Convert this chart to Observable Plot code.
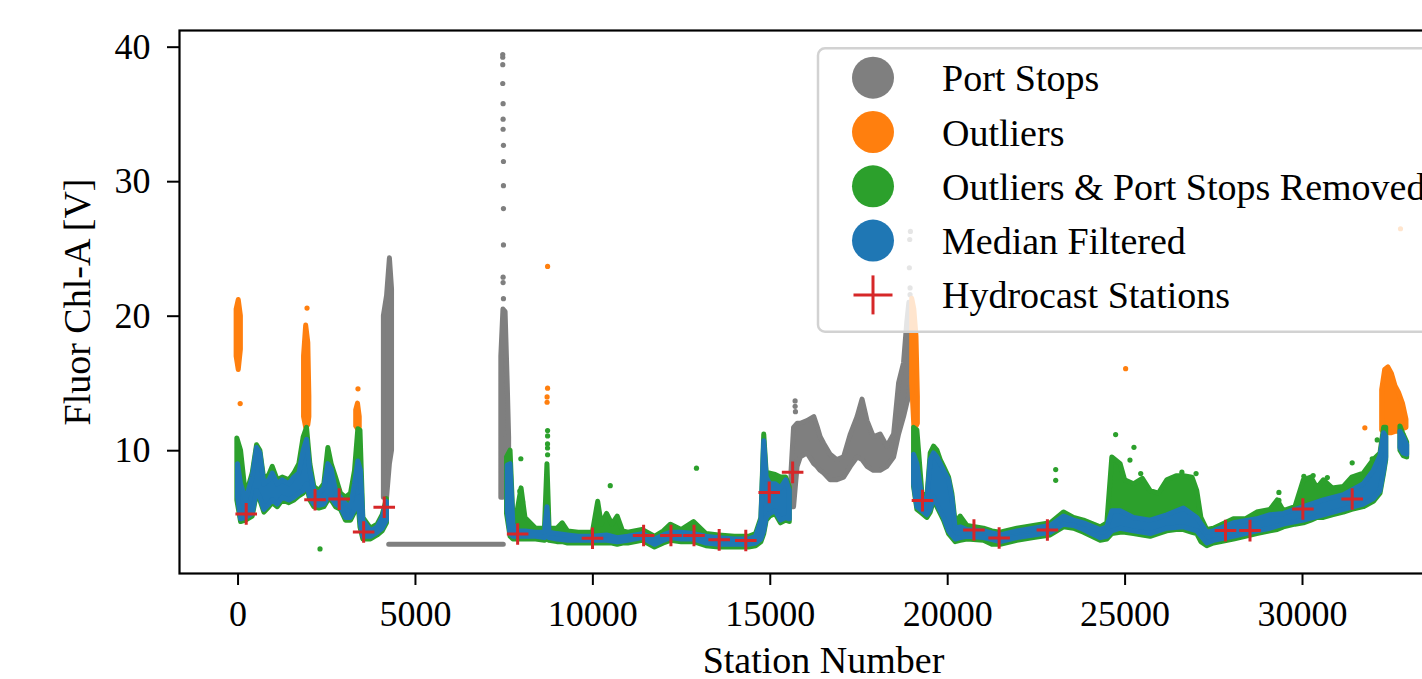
<!DOCTYPE html>
<html><head><meta charset="utf-8">
<script src="https://cdn.jsdelivr.net/npm/d3@7"></script>
<script src="https://cdn.jsdelivr.net/npm/@observablehq/plot@0.6"></script>
<style>
html,body{margin:0;padding:0;background:#fff;overflow:hidden;}
#wrap{position:relative;width:1422px;height:679px;overflow:hidden;background:#fff;}
#wrap svg{max-width:none !important;}
</style></head><body><div id="wrap"></div>
<script>
// ---- data (station number, low, high) ; null = gap between runs ----
const portStopBands = [
  [4110, 6.5, 20.0], [4200, 6.5, 21.5], [4280, 9.0, 24.3], [4340, 10.0, 22.0],
  null,
  [4260, 3.0, 3.0], [7490, 3.0, 3.0],
  null,
  [7420, 6.5, 17.0], [7480, 6.5, 20.5], [7540, 7.0, 20.3], [7600, 8.5, 15.0], [7640, 9.5, 11.0],
  null,
  [15600, 5.8, 8.5], [15670, 5.8, 11.7], [15770, 8.8, 12.0], [15860, 9.5, 12.0], [16050, 9.8, 12.2],
  [16240, 9.0, 12.5], [16330, 8.8, 11.8], [16420, 8.5, 11.0], [16520, 8.3, 10.5], [16700, 7.8, 9.7],
  [16890, 7.8, 9.3], [17080, 8.0, 9.5], [17270, 8.8, 11.2], [17460, 9.5, 12.5], [17600, 9.3, 13.8],
  [17740, 8.8, 12.2], [17920, 8.5, 11.0], [18110, 8.5, 11.2], [18300, 8.8, 10.3], [18490, 9.5, 11.2],
  [18630, 11.2, 15.0], [18770, 12.5, 16.5], [18860, 13.5, 19.5], [18920, 14.0, 21.0], [18990, 16.0, 20.0]
];
const portStopDots = [
  [7460, 39.45], [7460, 39.25], [7460, 38.7], [7460, 37.3], [7470, 35.8], [7470, 34.65], [7470, 33.9],
  [7480, 32.7], [7480, 31.5], [7480, 29.7], [7480, 28.0], [7480, 25.3], [7470, 22.9], [7470, 22.5], [7480, 21.3],
  [15700, 13.7], [15700, 13.3], [15710, 12.9],
  [18950, 26.3], [18930, 25.7], [18920, 23.6], [18940, 22.1], [18940, 21.6]
];
const outlierBands = [
  [-40, 17.0, 20.5], [20, 16.0, 21.2], [80, 17.5, 20.0],
  null,
  [1860, 12.5, 17.0], [1920, 11.7, 19.3], [1980, 11.9, 18.0], [2010, 12.5, 14.0],
  null,
  [3330, 11.8, 13.0], [3380, 11.6, 13.5], [3430, 11.7, 12.5],
  null,
  [19000, 15.0, 21.3], [19060, 11.8, 20.5], [19120, 11.8, 18.5], [19160, 12.0, 14.0],
  null,
  [32245, 11.5, 14.5], [32330, 11.3, 16.0], [32420, 11.3, 16.2], [32520, 11.3, 15.7],
  [32620, 11.4, 14.8], [32720, 11.4, 14.3], [32830, 11.6, 13.5], [32930, 11.7, 12.3]
];
const outlierDots = [
  [60, 13.5], [1944, 20.6], [3380, 14.6],
  [8724, 23.7], [8724, 14.65], [8710, 14.0], [8710, 13.6],
  [25015, 16.1], [31757, 11.7], [32762, 26.5]
];
const cleanedBands = [
  [-20, 6.3, 10.9], [85, 4.7, 10.0], [225, 4.8, 6.6], [413, 5.1, 8.3], [535, 6.8, 10.4], [629, 6.3, 10.0],
  [742, 5.4, 7.8], [883, 5.8, 8.2], [977, 6.1, 8.8], [1118, 5.8, 7.8], [1258, 6.3, 8.0], [1446, 6.1, 7.8],
  [1587, 6.3, 8.3], [1728, 6.6, 9.0], [1850, 6.8, 11.0], [1944, 7.3, 11.7], [2038, 6.3, 9.0], [2150, 5.8, 7.3],
  [2291, 5.7, 7.0], [2432, 5.8, 7.5], [2545, 6.3, 10.2], [2639, 6.3, 9.0], [2761, 5.8, 8.0], [2902, 5.6, 6.8],
  [3042, 4.8, 6.5], [3183, 4.8, 6.8], [3296, 5.4, 8.5], [3390, 6.3, 11.6], [3450, 4.3, 11.5], [3531, 3.4, 5.0],
  [3747, 3.4, 4.2], [3935, 3.7, 4.5], [4076, 4.0, 5.2], [4197, 4.6, 6.4],
  null,
  [7580, 5.3, 9.5], [7680, 3.6, 10.0], [7760, 3.4, 5.0], [7880, 3.4, 5.5], [7990, 3.4, 7.2], [8100, 3.4, 5.0],
  [8400, 3.4, 4.2], [8650, 3.3, 4.2], [8720, 3.4, 9.0], [8780, 3.3, 4.2], [9000, 3.2, 4.2], [9150, 3.2, 4.6],
  [9300, 3.1, 4.0], [9600, 3.1, 3.9], [10000, 3.1, 3.9], [10150, 3.1, 6.2], [10250, 3.1, 4.5], [10400, 3.1, 5.3],
  [10550, 3.1, 4.5], [10700, 3.0, 5.1], [10850, 3.1, 4.0], [11000, 3.1, 3.9], [11400, 3.3, 4.1], [11750, 2.8, 3.6],
  [12000, 3.1, 4.0], [12200, 3.3, 4.5], [12500, 3.2, 4.1], [12850, 3.2, 4.7], [13200, 2.9, 3.8], [13560, 2.8, 3.7],
  [14000, 2.8, 3.6], [14400, 2.8, 3.6], [14600, 2.9, 3.8], [14750, 3.2, 5.0], [14830, 3.8, 11.2], [14900, 4.8, 8.3],
  [15000, 5.1, 8.3], [15150, 5.3, 8.2], [15300, 4.6, 8.0], [15450, 4.8, 8.0], [15550, 4.7, 7.3],
  null,
  [19052, 7.3, 11.7], [19146, 5.6, 11.5], [19287, 5.3, 6.8], [19428, 5.0, 6.5], [19522, 5.4, 9.8], [19616, 6.3, 10.3],
  [19710, 5.8, 10.0], [19803, 5.3, 9.3], [19897, 4.8, 8.8], [20038, 3.8, 8.0], [20132, 3.5, 6.8], [20226, 3.2, 4.6],
  [20367, 3.3, 5.1], [20555, 3.4, 4.4], [21023, 3.3, 4.2], [21260, 3.0, 4.0], [21493, 3.0, 3.9], [21963, 3.3, 4.2],
  [22432, 3.5, 4.4], [22902, 3.7, 4.6], [23278, 4.3, 5.4], [23559, 4.2, 5.0], [23841, 3.9, 4.8], [24311, 3.3, 4.3],
  [24499, 3.4, 4.6], [24640, 3.8, 9.5], [24874, 3.9, 9.0], [25000, 3.9, 7.8], [25250, 3.8, 7.5], [25500, 3.7, 7.9],
  [25720, 3.6, 7.0], [25950, 3.8, 6.8], [26189, 4.0, 7.8], [26450, 4.1, 8.1], [26658, 4.1, 8.1], [26900, 3.9, 8.0],
  [27034, 3.8, 7.0], [27150, 3.2, 5.0], [27316, 2.9, 4.1], [27503, 3.1, 4.2], [28066, 3.4, 4.9], [28400, 3.6, 4.9],
  [28724, 3.8, 5.4], [29099, 4.0, 5.6], [29300, 4.1, 6.3], [29475, 4.3, 5.5], [29800, 4.5, 5.8], [30038, 4.6, 7.8],
  [30250, 4.8, 8.0], [30420, 5.0, 7.2], [30601, 5.0, 7.8], [30850, 5.2, 7.2], [31165, 5.4, 7.3], [31400, 5.6, 8.0],
  [31728, 5.8, 8.3], [32010, 6.2, 9.3], [32198, 6.8, 9.8], [32300, 8.3, 11.7], [32360, 9.3, 11.7],
  null,
  [32760, 10.0, 11.8], [32850, 9.6, 11.2], [32950, 9.5, 10.6]
];
const cleanedDots = [
  [2310, 2.7], [7970, 9.4], [7940, 7.0], [8020, 6.2],
  [8724, 11.5], [8724, 11.1], [8722, 10.5], [8722, 10.2], [8724, 9.7],
  [10490, 7.4], [12920, 8.7],
  [23044, 8.6], [23044, 7.8], [24733, 11.2], [25250, 10.25], [25137, 9.3], [25440, 8.3], [26600, 8.4], [27000, 8.3],
  [29335, 6.9], [29335, 6.3], [30038, 8.1], [30300, 8.15], [30700, 8.0], [31400, 9.1], [31965, 9.4], [32105, 10.8]
];
const medianBands = [
  [0, 6.5, 9.0], [85, 4.9, 7.5], [225, 5.0, 6.3], [413, 5.3, 8.0], [535, 7.0, 10.2], [629, 6.5, 9.8],
  [742, 5.6, 7.5], [883, 6.0, 7.8], [977, 6.3, 8.3], [1118, 6.0, 7.5], [1258, 6.5, 7.8], [1446, 6.3, 7.5],
  [1587, 6.5, 8.0], [1728, 6.8, 8.3], [1850, 7.0, 10.0], [1944, 7.5, 10.8], [2038, 6.5, 8.5], [2150, 6.0, 7.0],
  [2291, 5.9, 6.8], [2432, 6.0, 7.2], [2545, 6.5, 9.0], [2639, 6.5, 8.6], [2761, 6.0, 7.0], [2902, 5.8, 6.5],
  [3042, 5.0, 6.0], [3183, 5.0, 5.8], [3296, 5.6, 7.5], [3390, 6.5, 9.2], [3465, 4.5, 8.5], [3531, 3.6, 4.8],
  [3747, 3.6, 4.0], [3935, 3.9, 4.3], [4076, 4.2, 5.0], [4197, 4.8, 6.2],
  null,
  [7600, 5.5, 8.9], [7680, 3.8, 9.0], [7760, 3.6, 4.5], [7880, 3.6, 4.0], [8100, 3.6, 4.0], [8400, 3.6, 3.9],
  [8650, 3.5, 3.9], [8720, 3.6, 5.8], [8780, 3.5, 3.9], [9000, 3.4, 3.8], [9300, 3.3, 3.7], [9600, 3.3, 3.6],
  [10000, 3.3, 3.6], [10400, 3.3, 3.7], [10700, 3.2, 3.5], [11000, 3.3, 3.6], [11400, 3.5, 3.8], [11750, 3.0, 3.4],
  [12000, 3.3, 3.7], [12200, 3.5, 3.9], [12500, 3.4, 3.9], [12850, 3.4, 3.8], [13200, 3.1, 3.6], [13560, 3.0, 3.5],
  [14000, 3.0, 3.4], [14400, 3.0, 3.4], [14600, 3.1, 3.6], [14750, 3.4, 4.8], [14830, 4.0, 10.7], [14900, 5.0, 8.0],
  [15000, 5.3, 7.5], [15150, 5.5, 7.5], [15300, 4.8, 7.2], [15450, 5.0, 7.8], [15550, 4.9, 7.0],
  null,
  [19052, 7.5, 9.7], [19146, 5.8, 9.0], [19287, 5.5, 6.5], [19428, 5.2, 6.3], [19522, 5.6, 9.3], [19616, 6.5, 9.8],
  [19710, 6.0, 9.5], [19803, 5.5, 9.0], [19897, 5.0, 8.5], [20038, 4.0, 7.8], [20132, 3.7, 6.5], [20226, 3.4, 4.2],
  [20367, 3.5, 4.3], [20555, 3.6, 4.1], [21023, 3.5, 4.0], [21493, 3.2, 3.7], [21963, 3.5, 4.0], [22432, 3.7, 4.2],
  [22902, 3.9, 4.4], [23278, 4.5, 5.1], [23559, 4.4, 4.8], [23841, 4.1, 4.6], [24311, 3.5, 4.1], [24499, 3.6, 4.3],
  [24640, 4.0, 5.5], [24874, 4.2, 5.5], [25250, 4.0, 5.0], [25720, 3.8, 4.8], [26189, 4.2, 5.2], [26658, 4.3, 5.7],
  [27034, 4.0, 5.0], [27316, 3.1, 3.9], [27503, 3.3, 4.0], [28066, 3.6, 4.6], [28724, 4.0, 4.9], [29099, 4.2, 5.2],
  [29475, 4.5, 5.3], [30038, 4.8, 5.8], [30601, 5.2, 6.3], [31165, 5.6, 6.7], [31728, 6.0, 7.5], [32010, 6.4, 8.5],
  [32198, 7.0, 9.6], [32300, 8.5, 11.3], [32360, 9.5, 11.0],
  null,
  [32760, 10.2, 11.4], [32850, 9.8, 11.0], [32950, 9.7, 10.4]
];
const hydroStations = [230, 2170, 2850, 3540, 4120, 7880, 9990, 11430, 12200, 12850, 13560, 14310, 14970, 15630, 19290, 20740, 21450, 22810, 27830, 28520, 30010, 31400];
const hydroValues = [5.3, 6.35, 6.4, 3.95, 5.79, 3.81, 3.49, 3.69, 3.69, 3.69, 3.37, 3.32, 6.9, 8.39, 6.29, 4.11, 3.51, 4.11, 4.06, 4.06, 5.67, 6.41];
const xTicks = [0, 5000, 10000, 15000, 20000, 25000, 30000];
const yTicks = [10, 20, 30, 40];
const legendLabels = ["Port Stops", "Outliers", "Outliers & Port Stops Removed", "Median Filtered", "Hydrocast Stations"];
const GRAY = "#7f7f7f", ORANGE = "#ff7f0e", GREEN = "#2ca02c", BLUE = "#1f77b4", RED = "#d62728";

// ---- helpers ----
const toRows = arr => arr.map(r => r ? {s: r[0], lo: r[1], hi: r[2]} : {s: NaN, lo: NaN, hi: NaN});
const toPts = arr => arr.map(([s, v]) => ({s, v}));
const band = (rows, color) => Plot.areaY(toRows(rows), {
  x: "s", y1: "lo", y2: "hi", fill: color, stroke: color, strokeWidth: 5,
  strokeLinejoin: "round", strokeLinecap: "round"
});
const dots = (pts, color) => Plot.dot(toPts(pts), {x: "s", y: "v", r: 2.6, fill: color});
const hydro = hydroStations.map((s, i) => ({s, v: hydroValues[i]}));

const chart = Plot.plot({
  width: 1470, height: 679,
  marginLeft: 179, marginRight: 3, marginTop: 30, marginBottom: 106,
  style: {fontFamily: "'Liberation Serif', 'Times New Roman', serif", fontSize: "36px", background: "white", color: "black", maxWidth: "none"},
  x: {domain: [-1650, 34650]},
  y: {domain: [0.87, 41.24]},
  marks: [
    band(portStopBands, GRAY), dots(portStopDots, GRAY),
    band(outlierBands, ORANGE), dots(outlierDots, ORANGE),
    band(cleanedBands, GREEN), dots(cleanedDots, GREEN),
    band(medianBands, BLUE),
    Plot.dot(hydro, {x: "s", y: "v", symbol: "plus", r: 7, stroke: RED, strokeWidth: 3}),
    Plot.frame({stroke: "black", strokeWidth: 2.2}),
    Plot.axisX({ticks: xTicks, tickFormat: d3.format("d"), tickSize: 12, tickPadding: 15, strokeWidth: 2, fontSize: 36, label: null}),
    Plot.axisX({ticks: [], tickSize: 0, label: "Station Number", labelAnchor: "center", labelArrow: "none", labelOffset: 99, fontSize: 38}),
    Plot.axisY({ticks: yTicks, tickSize: 12, tickPadding: 17, strokeWidth: 2, fontSize: 36, label: null}),
    Plot.axisY({ticks: [], tickSize: 0, label: "Fluor Chl-A [V]", labelAnchor: "center", labelArrow: "none", labelOffset: 116, fontSize: 38})
  ]
});
const wrap = document.getElementById("wrap");
chart.style.position = "absolute";
chart.style.left = "0px";
chart.style.top = "0px";
wrap.appendChild(chart);

// ---- legend overlay ----
const lg = d3.select(wrap).append("svg")
  .attr("width", 1422).attr("height", 679)
  .style("position", "absolute").style("left", "0px").style("top", "0px");
lg.append("rect").attr("x", 818).attr("y", 48.3).attr("width", 700).attr("height", 283.4).attr("rx", 7)
  .attr("fill", "white").attr("fill-opacity", 0.8).attr("stroke", "#d2d2d2").attr("stroke-width", 2.5);
const legendColors = [GRAY, ORANGE, GREEN, BLUE, RED];
legendLabels.forEach((lab, i) => {
  const cy = 77.7 + i * 54.3;
  if (i < 4) {
    lg.append("circle").attr("cx", 873).attr("cy", cy).attr("r", 21).attr("fill", legendColors[i]);
  } else {
    lg.append("line").attr("x1", 853.5).attr("x2", 892.5).attr("y1", cy).attr("y2", cy).attr("stroke", RED).attr("stroke-width", 3);
    lg.append("line").attr("x1", 873).attr("x2", 873).attr("y1", cy - 19.5).attr("y2", cy + 19.5).attr("stroke", RED).attr("stroke-width", 3);
  }
  lg.append("text").attr("x", 942).attr("y", cy + 13.5)
    .attr("font-family", "'Liberation Serif', 'Times New Roman', serif").attr("font-size", 38).attr("fill", "black")
    .text(lab);
});
</script></body></html>
